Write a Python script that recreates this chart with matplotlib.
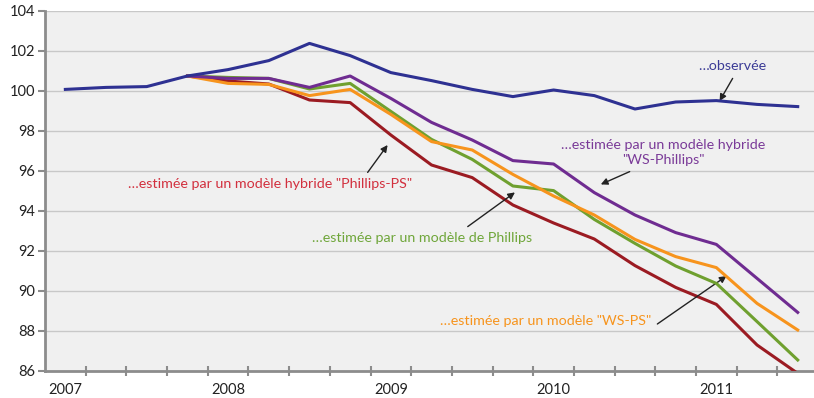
import matplotlib
matplotlib.use("Agg")
import matplotlib.pyplot as plt
import numpy as np

plt.rcParams['font.family'] = ['Lato', 'DejaVu Sans']

# trimestres 2007T1 -> 2011T3
quarters = ["2007T1", "2007T2", "2007T3", "2007T4",
            "2008T1", "2008T2", "2008T3", "2008T4",
            "2009T1", "2009T2", "2009T3", "2009T4",
            "2010T1", "2010T2", "2010T3", "2010T4",
            "2011T1", "2011T2", "2011T3"]
year_labels = {0: "2007", 4: "2008", 8: "2009", 12: "2010", 16: "2011"}

observee = [100.08, 100.18, 100.22, 100.75, 101.07, 101.52, 102.38, 101.77,
            100.92, 100.52, 100.08, 99.72, 100.05, 99.77, 99.10, 99.45,
            99.52, 99.33, 99.22]
# les estimations partent de 2007T4
ws_phillips = [None, None, None, 100.75, 100.63, 100.63, 100.18, 100.75,
               99.63, 98.43, 97.55, 96.52, 96.35, 94.92, 93.80, 92.92,
               92.33, 90.63, 88.93]
ws_ps = [None, None, None, 100.75, 100.38, 100.33, 99.77, 100.08,
         98.83, 97.47, 97.05, 95.83, 94.75, 93.80, 92.58, 91.72,
         91.17, 89.38, 88.05]
phillips = [None, None, None, 100.75, 100.68, 100.63, 100.10, 100.38,
            98.98, 97.58, 96.58, 95.25, 95.02, 93.58, 92.38, 91.25,
            90.38, 88.47, 86.55]
phillips_ps = [None, None, None, 100.75, 100.50, 100.35, 99.55, 99.42,
               97.80, 96.30, 95.67, 94.30, 93.40, 92.60, 91.27, 90.18,
               89.33, 87.30, 85.88]

x = np.arange(len(quarters))


def serie(vals):
    return np.array([np.nan if v is None else v for v in vals], dtype=float)


fig = plt.figure(figsize=(8.14, 3.98), dpi=100)
ax = fig.add_axes([45 / 814, 1 - 371 / 398, 1 - 45 / 814, 360 / 398])
ax.set_facecolor('#f0f0f0')

lw = 2.2
ax.plot(x, serie(phillips_ps), color='#9b1b22', lw=lw, zorder=3)
ax.plot(x, serie(phillips), color='#6fa02f', lw=lw, zorder=4)
ax.plot(x, serie(ws_ps), color='#f7941d', lw=lw, zorder=5)
ax.plot(x, serie(ws_phillips), color='#6f2c91', lw=lw, zorder=6)
ax.plot(x, observee, color='#2e3192', lw=lw, zorder=7)

ax.set_ylim(86, 104)
ax.set_xlim(-0.5, 18.4)
ax.set_yticks(np.arange(86, 105, 2))
ax.yaxis.grid(True, color='#c8c8c8', lw=1)
ax.set_axisbelow(True)

# traits entre les trimestres, années sous le premier trimestre
ax.set_xticks(np.arange(0.5, 18, 1))
ax.set_xticklabels([])
ax.set_xticks(list(year_labels.keys()), minor=True)
ax.set_xticklabels(list(year_labels.values()), minor=True)
ax.tick_params(axis='x', which='major', direction='inout', length=7,
               width=1.5, color='#8c8c8c')
ax.tick_params(axis='x', which='minor', length=0, pad=9, labelsize=10.5,
               labelcolor='#222222')
ax.tick_params(axis='y', direction='out', length=5, width=1.5,
               color='#8c8c8c', labelsize=10.5, labelcolor='#222222', pad=2)

for s in ['top', 'right']:
    ax.spines[s].set_visible(False)
for s in ['left', 'bottom']:
    ax.spines[s].set_color('#8c8c8c')
    ax.spines[s].set_linewidth(2)

arrow = dict(arrowstyle='-|>', color='#222222', lw=1, mutation_scale=10,
             shrinkA=0, shrinkB=0)
fs = 10.3

ax.annotate('', xy=(16.08, 99.5), xytext=(16.4, 100.63),
            arrowprops=arrow)
ax.text(16.4, 101.25, '…observée', color='#3b3b96', fontsize=fs,
        ha='center', va='center')

ax.annotate('', xy=(13.16, 95.33), xytext=(13.87, 95.97), arrowprops=arrow)
ax.text(14.7, 96.93, '…estimée par un modèle hybride\n"WS-Phillips"',
        color='#7a3a98', fontsize=fs, ha='center', va='center',
        linespacing=1.35)

ax.annotate('', xy=(7.92, 97.3), xytext=(7.43, 95.93), arrowprops=arrow)
ax.text(1.55, 95.33, '…estimée par un modèle hybride "Phillips-PS"',
        color='#d2303e', fontsize=fs, ha='left', va='center')

ax.annotate('', xy=(11.05, 94.93), xytext=(9.89, 93.22), arrowprops=arrow)
ax.text(6.05, 92.63, '…estimée par un modèle de Phillips',
        color='#6fa63a', fontsize=fs, ha='left', va='center')

ax.annotate('', xy=(16.25, 90.75), xytext=(14.55, 88.35), arrowprops=arrow)
ax.text(9.22, 88.5, '…estimée par un modèle "WS-PS"',
        color='#f7941d', fontsize=fs, ha='left', va='center')

fig.savefig('out.png', dpi=100)
